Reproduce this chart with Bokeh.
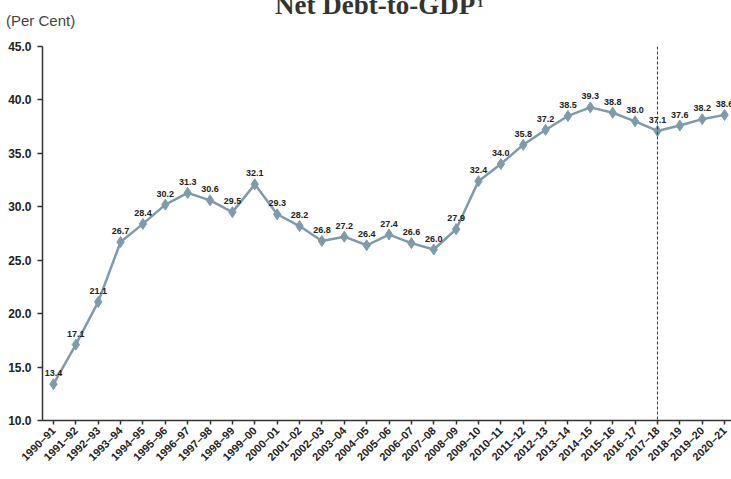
from bokeh.plotting import figure
from bokeh.layouts import column
from bokeh.models import FixedTicker, Range1d, Span, ColumnDataSource, PrintfTickFormatter, Div
from bokeh.embed import file_html
from bokeh.resources import INLINE
from bokeh.core.properties import value

categories = ["1990–91", "1991–92", "1992–93", "1993–94", "1994–95", "1995–96", "1996–97",
              "1997–98", "1998–99", "1999–00", "2000–01", "2001–02", "2002–03", "2003–04",
              "2004–05", "2005–06", "2006–07", "2007–08", "2008–09", "2009–10", "2010–11",
              "2011–12", "2012–13", "2013–14", "2014–15", "2015–16", "2016–17", "2017–18",
              "2018–19", "2019–20", "2020–21"]
net_debt = [13.4, 17.1, 21.1, 26.7, 28.4, 30.2, 31.3, 30.6, 29.5, 32.1, 29.3, 28.2, 26.8, 27.2,
            26.4, 27.4, 26.6, 26.0, 27.9, 32.4, 34.0, 35.8, 37.2, 38.5, 39.3, 38.8, 38.0, 37.1,
            37.6, 38.2, 38.6]
y_ticks = [10, 15, 20, 25, 30, 35, 40, 45]
forecast_start = "2017–18"
title_text = "Net Debt-to-GDP"
title_note = "1"
unit_text = "(Per Cent)"

W = 731
HEAD_H = 38
CHART_H = 479 - HEAD_H
L, T, B = 42, 8, 59
x0, x1 = -0.49, 30.31
y0, y1 = 10, 45

# ---- header strip: title and unit as real text
span_css = "position:absolute;white-space:nowrap;margin:0;padding:0;"
head_html = (
    f'<div style="position:relative;width:{W}px;height:{HEAD_H}px;overflow:visible;">'
    f'<span style="{span_css}left:275px;top:-8px;font-family:\'Liberation Serif\',serif;'
    f'font-weight:bold;font-size:27px;line-height:27px;color:#333333;">{title_text}</span>'
    f'<span style="{span_css}left:477px;top:-4px;font-family:\'Liberation Serif\',serif;'
    f'font-weight:bold;font-size:13px;line-height:13px;color:#333333;">{title_note}</span>'
    f'<span style="{span_css}left:6px;top:13px;font-family:\'Liberation Sans\',sans-serif;'
    f'font-size:15px;line-height:15px;color:#444444;">{unit_text}</span>'
    '</div>'
)
head = Div(text=head_html, width=W, height=HEAD_H, margin=0)

# ---- chart
xs = list(range(len(categories)))
src = ColumnDataSource(dict(x=xs, y=net_debt, lab=[f"{v:.1f}" for v in net_debt]))

p = figure(width=W, height=CHART_H, output_backend="svg", toolbar_location=None,
           x_range=Range1d(x0, x1), y_range=Range1d(y0, y1), title=None,
           min_border_left=L, min_border_top=T, min_border_bottom=B, min_border_right=0,
           outline_line_color=None)
p.grid.visible = False

line_col = "#7f9bab"
p.line("x", "y", source=src, line_color=line_col, line_width=2.5)
p.scatter("x", "y", source=src, marker="diamond", size=11, fill_color=line_col,
          line_color=line_col)
p.text("x", "y", text="lab", source=src, text_align="center", text_baseline="alphabetic",
       y_offset=-11, text_font=value("Liberation Sans"), text_font_style="bold",
       text_font_size="9px", text_color="#222222")

vx = categories.index(forecast_start)
p.add_layout(Span(location=vx, dimension="height", line_color="#333333", line_width=1,
                  line_dash="3 2"))

p.yaxis.ticker = FixedTicker(ticks=y_ticks)
p.yaxis.formatter = PrintfTickFormatter(format="%.1f")
p.yaxis.major_label_text_font = "Liberation Sans"
p.yaxis.major_label_text_font_style = "bold"
p.yaxis.major_label_text_font_size = "12px"
p.yaxis.major_label_text_color = "#222222"
p.yaxis.major_tick_out = 5
p.yaxis.major_tick_in = 0
p.yaxis.minor_tick_line_color = None
p.yaxis.axis_line_color = "#333333"
p.yaxis.axis_line_width = 1.5
p.yaxis.major_tick_line_color = "#333333"
p.yaxis.major_tick_line_width = 1.5
p.yaxis.major_label_standoff = 6

p.xaxis.ticker = FixedTicker(ticks=xs)
p.xaxis.major_label_overrides = {i: c for i, c in zip(xs, categories)}
p.xaxis.major_label_orientation = 0.7854
p.xaxis.major_label_text_font = "Liberation Sans"
p.xaxis.major_label_text_font_style = "bold"
p.xaxis.major_label_text_font_size = "11px"
p.xaxis.major_label_text_color = "#222222"
p.xaxis.major_tick_out = 4
p.xaxis.major_tick_in = 0
p.xaxis.minor_tick_line_color = None
p.xaxis.axis_line_color = "#333333"
p.xaxis.axis_line_width = 1.5
p.xaxis.major_tick_line_color = "#333333"
p.xaxis.major_tick_line_width = 1.5
p.xaxis.major_label_standoff = 4

layout = column(head, p, spacing=0)
open("out.html", "w").write(file_html(layout, INLINE))
